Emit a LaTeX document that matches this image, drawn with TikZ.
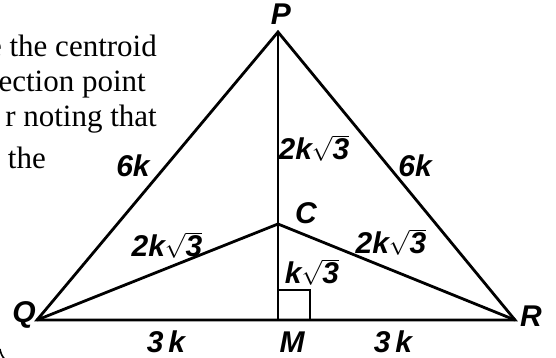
\documentclass[tikz,border=0pt]{standalone}
\usepackage{amsmath}
\usepackage{fontspec}
\setmainfont{Liberation Serif}
\setsansfont{Liberation Sans}
\usepackage{tikz}
\usetikzlibrary{calc}

\tikzset{
  lato/.style={line width=2.8pt},
  etich/.style={font=\fontsize{30}{32}\selectfont\sffamily\bfseries\itshape,inner sep=0pt},
  testo/.style={font=\fontsize{31}{34}\selectfont,inner sep=0pt,anchor=base east}
}
\newcommand{\radtre}{$\sqrt{\mbox{3}}$}

\begin{document}
\begin{tikzpicture}[x=1pt,y=-1pt]
\useasboundingbox (0,0) rectangle (556,358);
\clip (0,0) rectangle (556,358);
% ---- testo tagliato a sinistra ----
\node[testo] (t1) at (157,57) {e the centroid};
\node[testo] (t2) at (146,92) {ection point};
\node[testo] (t3) at (157,127) {r noting that};
\node[testo] (t4) at (46,168) {. the};
\draw[line width=1.6pt] (0,349) to[bend right=15] (4.5,359);
% ---- vertici ----
\coordinate (P) at (278,32);
\coordinate (Q) at (37,320);
\coordinate (R) at (515,320);
\coordinate (M) at (278,320);
\coordinate (C) at (278,224);
% ---- triangolo e mediane ----
\draw[lato,line join=miter] (Q) -- (P) -- (R) -- cycle;
\draw[lato] (P) -- (M);
\draw[lato] (Q) -- (C) -- (R);
\draw[line width=2pt] ($(M)+(0,-30)$) -| ($(M)+(32,0)$);
% ---- nomi dei punti ----
\node[etich] (lP) at (281,14) {P};
\node[etich] (lQ) at (24,315) {Q};
\node[etich] (lR) at (531,316) {R};
\node[etich] (lM) at (292,342) {M};
\node[etich] (lC) at (306,213) {C};
% ---- lunghezze ----
\node[etich] (a1) at (166,342) {3\,k};
\node[etich] (a2) at (393,342) {3\,k};
\node[etich] (b1) at (133,166) {6k};
\node[etich] (b2) at (415,166) {6k};
\node[etich] (c1) at (314,148) {2k\radtre};
\node[etich] (c2) at (167,245) {2k\radtre};
\node[etich] (c3) at (391,242) {2k\radtre};
\node[etich] (c4) at (312,272) {k\radtre};
\end{tikzpicture}
\end{document}
